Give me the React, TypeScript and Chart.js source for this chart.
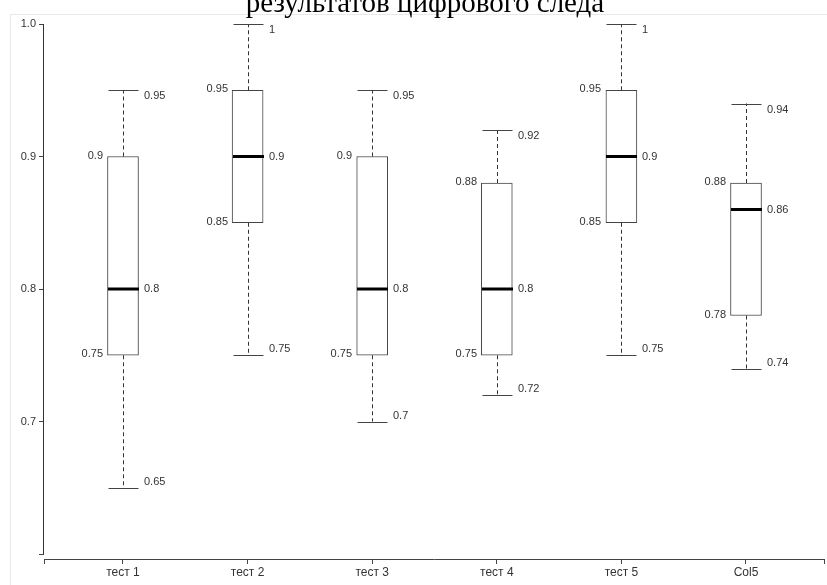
import React, { useEffect, useRef } from "react";
import { Chart, registerables } from "chart.js";

Chart.register(...registerables);

const titleText = "результатов цифрового следа";
const categories = ["тест 1", "тест 2", "тест 3", "тест 4", "тест 5", "Col5"];
const mins = [0.65, 0.75, 0.7, 0.72, 0.75, 0.74];
const q1s = [0.75, 0.85, 0.75, 0.75, 0.85, 0.78];
const medians = [0.8, 0.9, 0.8, 0.8, 0.9, 0.86];
const q3s = [0.9, 0.95, 0.9, 0.88, 0.95, 0.88];
const maxs = [0.95, 1, 0.95, 0.92, 1, 0.94];
const yTicks = [0.6, 0.7, 0.8, 0.9, 1.0];
const yTickLabels = ["", "0.7", "0.8", "0.9", "1.0"];

const LABEL_FONT = "11px 'Liberation Sans', Arial, sans-serif";

const boxPlugin = {
  id: "boxExtras",
  beforeDraw(chart: any) {
    const { ctx, chartArea } = chart;
    ctx.save();
    ctx.fillStyle = "#ffffff";
    ctx.fillRect(0, 0, chart.width, chart.height);
    ctx.strokeStyle = "#e8e8e8";
    ctx.lineWidth = 1;
    ctx.strokeRect(chartArea.left - 34 + 0.5, chartArea.top - 10 + 0.5, chart.width + 100, chart.height + 100);
    ctx.restore();
  },
  afterDatasetsDraw(chart: any) {
    const { ctx } = chart;
    const xs = chart.scales.x;
    const ys = chart.scales.y;
    const half = 15.5;
    const capHalf = 15;
    ctx.save();
    const ax = Math.round(chart.chartArea.left) - 0.5;
    ctx.strokeStyle = "#333";
    ctx.lineWidth = 1;
    ctx.setLineDash([]);
    ctx.beginPath();
    ctx.moveTo(ax, ys.getPixelForValue(yTicks[yTicks.length - 1]));
    ctx.lineTo(ax, ys.getPixelForValue(yTicks[0]));
    ctx.stroke();

    for (let i = 0; i < categories.length; i++) {
      const cx = Math.round(xs.getPixelForValue(i)) + 0.5;
      const yMin = ys.getPixelForValue(mins[i]);
      const yQ1 = ys.getPixelForValue(q1s[i]);
      const yMed = ys.getPixelForValue(medians[i]);
      const yQ3 = ys.getPixelForValue(q3s[i]);
      const yMax = ys.getPixelForValue(maxs[i]);

      ctx.strokeStyle = "#333";
      ctx.lineWidth = 1;
      ctx.setLineDash([4, 3]);
      ctx.beginPath();
      ctx.moveTo(cx, yQ3);
      ctx.lineTo(cx, yMax);
      ctx.moveTo(cx, yQ1);
      ctx.lineTo(cx, yMin);
      ctx.stroke();
      ctx.setLineDash([]);

      ctx.strokeStyle = "#444";
      ctx.beginPath();
      ctx.moveTo(cx - capHalf, Math.round(yMax) + 0.5);
      ctx.lineTo(cx + capHalf, Math.round(yMax) + 0.5);
      ctx.moveTo(cx - capHalf, Math.round(yMin) + 0.5);
      ctx.lineTo(cx + capHalf, Math.round(yMin) + 0.5);
      ctx.stroke();

      ctx.strokeStyle = "#000";
      ctx.lineWidth = 3;
      ctx.beginPath();
      ctx.moveTo(cx - half, yMed);
      ctx.lineTo(cx + half, yMed);
      ctx.stroke();

      ctx.font = LABEL_FONT;
      ctx.fillStyle = "#333";
      ctx.textBaseline = "middle";
      ctx.textAlign = "left";
      ctx.fillText(String(maxs[i]), cx + half + 5, yMax + 6);
      ctx.fillText(String(medians[i]), cx + half + 5, yMed);
      ctx.fillText(String(mins[i]), cx + half + 5, yMin - 6);
      ctx.textAlign = "right";
      ctx.fillText(String(q3s[i]), cx - half - 5, yQ3 - 1);
      ctx.fillText(String(q1s[i]), cx - half - 5, yQ1 - 1);
    }
    ctx.restore();
  },
};

export default function App() {
  const ref = useRef<HTMLCanvasElement | null>(null);

  useEffect(() => {
    if (!ref.current) return;
    const data = categories.map((_, i) => ({ x: i, y: [q1s[i], q3s[i]] }));
    const chart = new Chart(ref.current, {
      type: "bar",
      data: {
        datasets: [
          {
            data: data as any,
            backgroundColor: "#ffffff",
            borderColor: "#444",
            borderWidth: 1,
            borderSkipped: false,
            barThickness: 31,
            yAxisID: "y",
          },
        ],
      },
      options: {
        animation: false,
        responsive: false,
        devicePixelRatio: 1,
        layout: { padding: 0 },
        plugins: {
          legend: { display: false },
          tooltip: { enabled: false },
          title: {
            display: true,
            text: titleText,
            color: "#000",
            font: { family: "'Liberation Serif', 'Times New Roman', serif", size: 29, weight: "normal", lineHeight: 1.2 },
            padding: { top: 0, bottom: 2.2 },
          },
        },
        scales: {
          x: {
            type: "linear",
            offset: false,
            min: -0.634,
            max: 5.626,
            afterBuildTicks: (scale: any) => {
              scale.ticks = [scale.min, 0, 1, 2, 3, 4, 5, scale.max].map((v: number) => ({ value: v }));
            },
            afterFit: (scale: any) => {
              scale.height = 26;
            },
            ticks: {
              autoSkip: false,
              maxRotation: 0,
              padding: 1,
              color: "#333",
              font: { family: "'Liberation Sans', Arial, sans-serif", size: 12 },
              callback: (v: any) => (Number.isInteger(v) ? categories[v] : ""),
            },
            grid: { offset: false, drawOnChartArea: false, drawTicks: true, tickLength: 5, color: "#444" },
            border: { display: true, color: "#444" },
          },
          y: {
            type: "linear",
            position: "left",
            min: 0.59623,
            max: 1.0,
            afterBuildTicks: (scale: any) => {
              scale.ticks = yTicks.map((v) => ({ value: v }));
            },
            afterFit: (scale: any) => {
              scale.width = 44;
            },
            ticks: {
              autoSkip: false,
              padding: 3,
              color: "#333",
              font: { family: "'Liberation Sans', Arial, sans-serif", size: 11 },
              callback: (v: any) => {
                const idx = yTicks.findIndex((t) => Math.abs(t - v) < 1e-6);
                return idx >= 0 ? yTickLabels[idx] : "";
              },
            },
            grid: { drawOnChartArea: false, drawTicks: true, tickLength: 5, color: "#444" },
            border: { display: false },
          },
          yRight: {
            type: "linear",
            position: "right",
            min: 0,
            max: 1,
            afterFit: (scale: any) => {
              scale.width = 26;
            },
            ticks: { display: false },
            grid: { display: false },
            border: { display: false },
          },
        },
      },
      plugins: [boxPlugin],
    });
    return () => chart.destroy();
  }, []);

  return (
    <div style={{ position: "fixed", left: 0, top: 0, width: 827, height: 585, overflow: "hidden", background: "#fff" }}>
      <canvas ref={ref} width={850} height={598} style={{ display: "block", marginTop: -13 }} />
    </div>
  );
}
